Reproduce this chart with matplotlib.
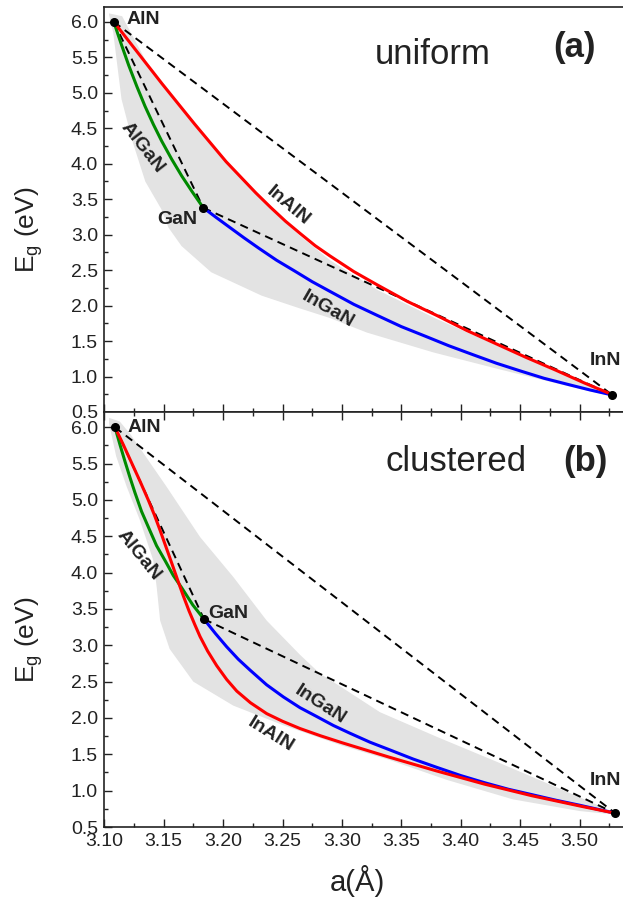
import numpy as np
import matplotlib
matplotlib.use('Agg')
import matplotlib.pyplot as plt
from matplotlib.ticker import MultipleLocator, FormatStrFormatter

plt.rcParams['font.family'] = ['Liberation Sans', 'DejaVu Sans']
plt.rcParams['mathtext.fontset'] = 'custom'
plt.rcParams['mathtext.rm'] = 'Liberation Sans'
plt.rcParams['mathtext.it'] = 'Liberation Sans:italic'

# binaries: AlN, GaN, InN  (a in Angstrom, Eg in eV)
top_ends_a = [3.108, 3.1833, 3.5276]
top_ends_e = [6.00, 3.38, 0.74]
bot_ends_a = [3.109, 3.1839, 3.530]
bot_ends_e = [6.00, 3.36, 0.69]

# (a) uniform
top_algan_a = [3.108, 3.1142, 3.1205, 3.1274, 3.1343, 3.1413, 3.1483, 3.1567, 3.1651, 3.1742, 3.1833]
top_algan_e = [6.00, 5.69, 5.39, 5.09, 4.81, 4.555, 4.32, 4.065, 3.83, 3.60, 3.38]
top_inaln_a = [3.108, 3.1215, 3.135, 3.1485, 3.162, 3.176, 3.19, 3.2025, 3.215, 3.2275, 3.24, 3.2525,
               3.265, 3.2775, 3.29, 3.31, 3.33, 3.355, 3.38, 3.405, 3.43, 3.455, 3.48, 3.504, 3.5276]
top_inaln_e = [6.00, 5.71, 5.42, 5.13, 4.85, 4.56, 4.28, 4.03, 3.81, 3.59, 3.385, 3.19,
               3.015, 2.845, 2.70, 2.48, 2.29, 2.06, 1.86, 1.65, 1.46, 1.27, 1.09, 0.91, 0.745]
top_ingan_a = [3.1833, 3.194, 3.205, 3.2175, 3.23, 3.245, 3.26, 3.275, 3.29, 3.31, 3.33, 3.35,
               3.37, 3.39, 3.41, 3.43, 3.45, 3.47, 3.49, 3.509, 3.5276]
top_ingan_e = [3.38, 3.245, 3.11, 2.957, 2.81, 2.64, 2.49, 2.337, 2.20, 2.018, 1.86, 1.704,
               1.57, 1.434, 1.31, 1.188, 1.08, 0.976, 0.89, 0.81, 0.74]
top_band_up_a = [3.104, 3.115, 3.135, 3.162, 3.19, 3.215, 3.24, 3.265, 3.29, 3.33, 3.38, 3.43, 3.48, 3.528]
top_band_up_e = [6.12, 6.08, 5.45, 4.88, 4.30, 3.80, 3.36, 2.98, 2.64, 2.22, 1.81, 1.44, 1.07, 0.76]
top_band_lo_a = [3.104, 3.1075, 3.1145, 3.124, 3.1345, 3.148, 3.154, 3.165, 3.19, 3.2325,
                 3.2647, 3.289, 3.321, 3.377, 3.433, 3.489, 3.528]
top_band_lo_e = [6.10, 5.85, 4.91, 4.30, 3.75, 3.36, 3.10, 2.84, 2.47, 2.14,
                 1.96, 1.83, 1.62, 1.34, 1.10, 0.87, 0.72]

# (b) clustered
bot_algan_a = [3.109, 3.1132, 3.1174, 3.1216, 3.1258, 3.1314, 3.137, 3.144, 3.151, 3.1581,
               3.1652, 3.1745, 3.1839]
bot_algan_e = [6.00, 5.76, 5.53, 5.31, 5.10, 4.84, 4.63, 4.37, 4.17, 3.96,
               3.79, 3.555, 3.36]
bot_inaln_a = [3.109, 3.116, 3.123, 3.130, 3.137, 3.142, 3.147, 3.152, 3.157, 3.1617, 3.1665,
               3.1714, 3.1763, 3.1806, 3.187, 3.1946, 3.203, 3.2115, 3.223, 3.2367, 3.25,
               3.2647, 3.282, 3.30, 3.34, 3.38, 3.42, 3.46, 3.50, 3.530]
bot_inaln_e = [6.00, 5.76, 5.51, 5.26, 5.00, 4.80, 4.58, 4.35, 4.12, 3.90, 3.68,
               3.47, 3.28, 3.12, 2.92, 2.72, 2.53, 2.37, 2.21, 2.06, 1.955,
               1.855, 1.755, 1.66, 1.46, 1.27, 1.09, 0.93, 0.79, 0.69]
bot_ingan_a = [3.1839, 3.1935, 3.203, 3.2128, 3.2226, 3.2366, 3.2507, 3.2647, 3.2788, 3.2928,
               3.3068, 3.3236, 3.3405, 3.36, 3.38, 3.40, 3.42, 3.44, 3.46, 3.48, 3.50, 3.515, 3.530]
bot_ingan_e = [3.36, 3.163, 2.98, 2.808, 2.66, 2.457, 2.29, 2.142, 2.02, 1.897,
               1.79, 1.667, 1.56, 1.435, 1.32, 1.208, 1.11, 1.02, 0.945, 0.869, 0.80, 0.745, 0.69]
bot_band_up_a = [3.104, 3.113, 3.1217, 3.1525, 3.1806, 3.2086, 3.2367, 3.2647, 3.2816,
                 3.30, 3.332, 3.38, 3.43, 3.48, 3.530]
bot_band_up_e = [6.13, 6.08, 5.91, 5.18, 4.49, 3.94, 3.34, 2.87, 2.61,
                 2.42, 2.08, 1.74, 1.40, 1.05, 0.70]
bot_band_lo_a = [3.104, 3.110, 3.1189, 3.130, 3.1412, 3.1441, 3.147, 3.155, 3.1749, 3.2086,
                 3.2507, 3.30, 3.3405, 3.388, 3.444, 3.50, 3.530]
bot_band_lo_e = [6.05, 5.60, 5.18, 4.72, 4.17, 3.80, 3.34, 2.95, 2.50, 2.17,
                 1.90, 1.62, 1.42, 1.15, 0.88, 0.72, 0.67]

txt = '#222222'
W, H = 623, 900
x0 = 104.3 / W


def draw_panel(ax, ends_a, ends_e, algan, inaln, ingan, band_up, band_lo):
    band_a = list(band_up[0]) + list(band_lo[0])[::-1]
    band_e = list(band_up[1]) + list(band_lo[1])[::-1]
    ax.fill(band_a, band_e, color='#e3e3e3', lw=0, zorder=1)
    # dashed straight lines between binaries
    for i, j in [(0, 2), (0, 1), (1, 2)]:
        ax.plot([ends_a[i], ends_a[j]], [ends_e[i], ends_e[j]], color='black',
                lw=1.4, dashes=(4.2, 2.8), zorder=2)
    line = dict(lw=2.2, solid_joinstyle='round', solid_capstyle='round')
    ax.plot(algan[0], algan[1], color='#008a00', zorder=3, **line)
    ax.plot(ingan[0], ingan[1], color='#0000ff', zorder=3, **line)
    ax.plot(inaln[0], inaln[1], color='#ff0000', zorder=4, **line)
    ax.plot(ends_a, ends_e, 'o', color='black', ms=5.5, zorder=5, clip_on=False)

    ax.set_xlim(3.10, 3.10 + (W - 104.3) / 1188)
    ax.set_ylim(0.5, 6.21)
    ax.xaxis.set_major_locator(MultipleLocator(0.05))
    ax.xaxis.set_minor_locator(MultipleLocator(0.025))
    ax.yaxis.set_major_locator(MultipleLocator(0.5))
    ax.yaxis.set_minor_locator(MultipleLocator(0.25))
    ax.xaxis.set_major_formatter(FormatStrFormatter('%.2f'))
    ax.yaxis.set_major_formatter(FormatStrFormatter('%.1f'))
    ax.tick_params(which='both', direction='in', width=1.0, colors='#222222',
                   labelcolor=txt, labelsize=14, pad=4.5, right=False)
    ax.tick_params(which='major', length=6)
    ax.tick_params(which='minor', length=3)
    ax.spines['right'].set_visible(False)
    for s in ['left', 'top', 'bottom']:
        ax.spines[s].set_linewidth(1.2)
        ax.spines[s].set_color('#222222')
    ax.set_ylabel(r'E$_{\rm g}$ (eV)', fontsize=19, color=txt)
    ax.yaxis.set_label_coords(-0.114, 0.45)


fig = plt.figure(figsize=(W / 100, H / 100), dpi=100)
ax1 = fig.add_axes([x0, (H - 412) / H, 1 - x0, 405 / H])
ax2 = fig.add_axes([x0, (H - 827) / H, 1 - x0, 415 / H])

draw_panel(ax1, top_ends_a, top_ends_e,
           (top_algan_a, top_algan_e), (top_inaln_a, top_inaln_e), (top_ingan_a, top_ingan_e),
           (top_band_up_a, top_band_up_e), (top_band_lo_a, top_band_lo_e))
draw_panel(ax2, bot_ends_a, bot_ends_e,
           (bot_algan_a, bot_algan_e), (bot_inaln_a, bot_inaln_e), (bot_ingan_a, bot_ingan_e),
           (bot_band_up_a, bot_band_up_e), (bot_band_lo_a, bot_band_lo_e))

ax1.tick_params(labelbottom=False)
ax2.tick_params(which='both', top=True)
ax2.set_xlabel('a(Å)', fontsize=21, color=txt)
ax2.xaxis.set_label_coords(0.487, -0.092)

lab = dict(fontsize=14, fontweight='bold', color=txt, zorder=6)
# labels panel (a)
ax1.text(3.1185, 6.03, 'AlN', ha='left', va='center', **lab)
ax1.text(3.1616, 3.21, 'GaN', ha='center', va='center', **lab)
ax1.text(3.5215, 1.22, 'InN', ha='center', va='center', **lab)
ax1.text(3.1318, 4.23, 'AlGaN', ha='center', va='center', rotation=-52, **lab)
ax1.text(3.2546, 3.41, 'InAlN', ha='center', va='center', rotation=-40, **lab)
ax1.text(3.2885, 1.95, 'InGaN', ha='center', va='center', rotation=-30, **lab)
ax1.text(3.3763, 5.40, 'uniform', ha='center', va='baseline', fontsize=25, color=txt)
ax1.text(3.4962, 5.50, '(a)', ha='center', va='baseline', fontsize=25, fontweight='bold', color=txt)

# labels panel (b)
ax2.text(3.1195, 6.00, 'AlN', ha='left', va='center', **lab)
ax2.text(3.2044, 3.44, 'GaN', ha='center', va='center', **lab)
ax2.text(3.5215, 1.14, 'InN', ha='center', va='center', **lab)
ax2.text(3.1286, 4.24, 'AlGaN', ha='center', va='center', rotation=-51, **lab)
ax2.text(3.2816, 2.18, 'InGaN', ha='center', va='center', rotation=-33, **lab)
ax2.text(3.2402, 1.77, 'InAlN', ha='center', va='center', rotation=-32, **lab)
ax2.text(3.3959, 5.40, 'clustered', ha='center', va='baseline', fontsize=25, color=txt)
ax2.text(3.5046, 5.40, '(b)', ha='center', va='baseline', fontsize=25, fontweight='bold', color=txt)

fig.savefig('out.png', dpi=100)
